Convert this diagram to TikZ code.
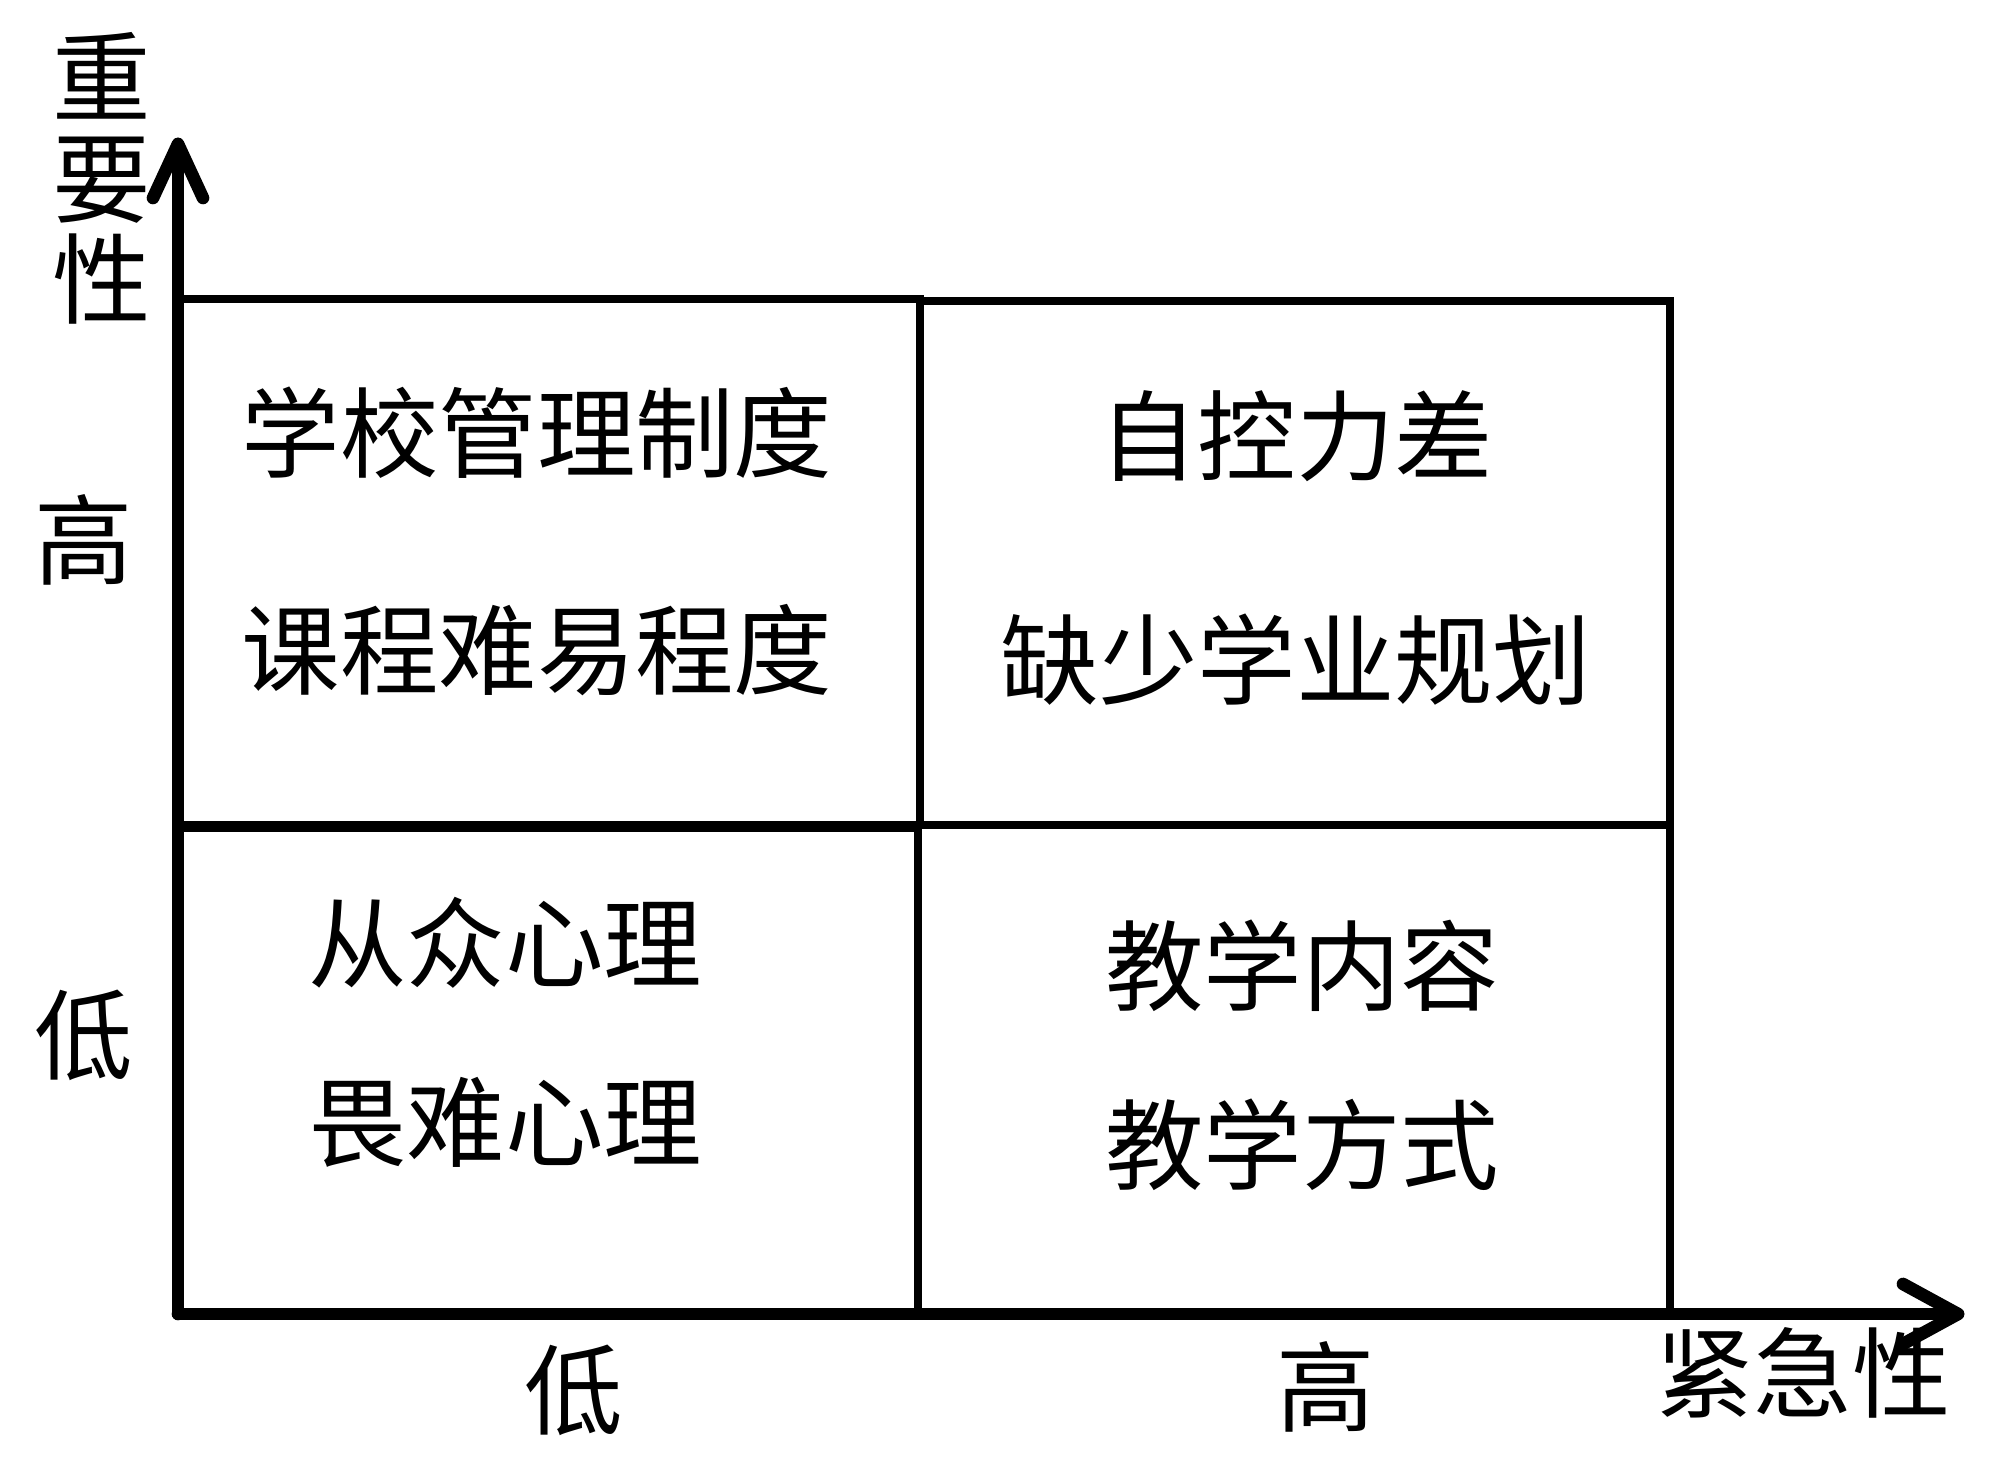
\documentclass[tikz,border=0pt]{standalone}
\usepackage{fontspec}
\newfontfamily\cjk{Noto Sans CJK SC}
\begin{document}
\begin{tikzpicture}[x=0.01cm,y=-0.01cm,
  box/.style={line width=2pt},
  axis/.style={line width=3.6pt, line cap=round, line join=round},
  lab/.style={font=\cjk\fontsize{28}{28.7}\selectfont, inner sep=0pt, align=center}]
\useasboundingbox (0,0) rectangle (1999,1474);
% quadrant boxes
\draw[box] (178,299) rectangle (920,825);
\draw[box] (920,301) rectangle (1670,825);
\draw[box] (178,828) rectangle (918,1313);
\draw[box] (918,825) rectangle (1670,1313);
% axes
\coordinate (O) at (178,1314);
\coordinate (ytip) at (178,144);
\coordinate (xtip) at (1958,1314);
\draw[axis] (O) -- (ytip);
\draw[axis] (O) -- (xtip);
\draw[axis] ([shift={(-25,54)}]ytip) -- (ytip) -- ([shift={(25,54)}]ytip);
\draw[axis] ([shift={(-55,-30)}]xtip) -- (xtip) -- ([shift={(-55,30)}]xtip);
% axis labels
\node[lab] (ylab) at (102,178) {重\\要\\性};
\node[lab] (xlab) at (1803,1373) {紧急性};
\node[lab] (yhi) at (84,540) {高};
\node[lab] (ylo) at (84,1035) {低};
\node[lab] (xlo) at (574,1390) {低};
\node[lab] (xhi) at (1326,1387) {高};
% quadrant texts
\node[lab] (q1a) at (537,433) {学校管理制度};
\node[lab] (q1b) at (537,650) {课程难易程度};
\node[lab] (q2a) at (1296,436) {自控力差};
\node[lab] (q2b) at (1296,660) {缺少学业规划};
\node[lab] (q3a) at (505,943) {从众心理};
\node[lab] (q3b) at (505,1122) {畏难心理};
\node[lab] (q4a) at (1302,966) {教学内容};
\node[lab] (q4b) at (1302,1145) {教学方式};
\end{tikzpicture}
\end{document}
